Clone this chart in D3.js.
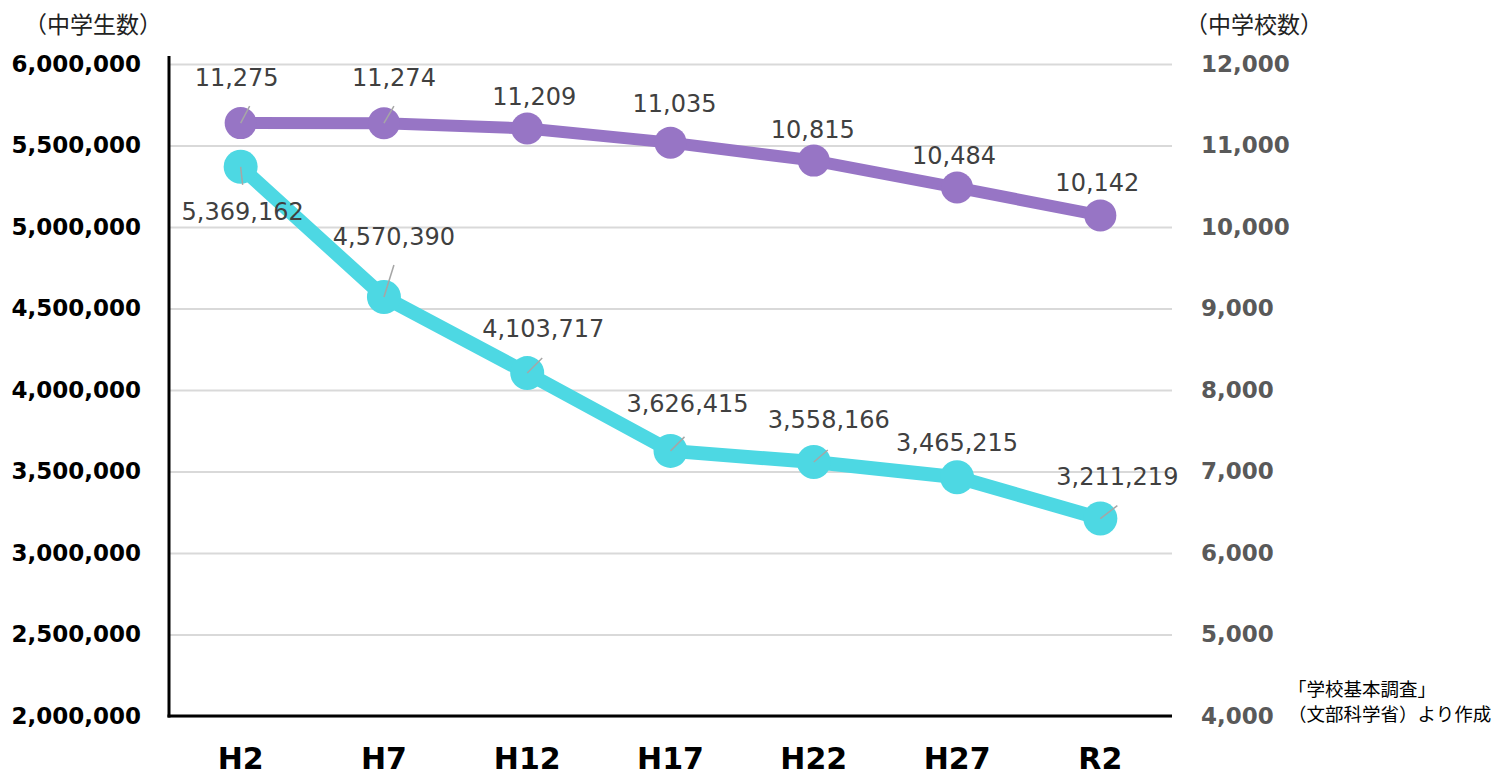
<!DOCTYPE html>
<html><head><meta charset="utf-8">
<script src="https://cdn.jsdelivr.net/npm/d3@7"></script>
<style>
html,body{margin:0;padding:0;background:#fff;}
svg{display:block;}
</style></head>
<body>
<svg id="chart" width="1505" height="777"></svg>
<script>
// ---- data ----
const categories = ["H2","H7","H12","H17","H22","H27","R2"];
const students = [5369162, 4570390, 4103717, 3626415, 3558166, 3465215, 3211219];
const schools = [11275, 11274, 11209, 11035, 10815, 10484, 10142];
const leftTicks = [2000000,2500000,3000000,3500000,4000000,4500000,5000000,5500000,6000000];
const rightTicks = [4000,5000,6000,7000,8000,9000,10000,11000,12000];
const leftTitle = "（中学生数）";
const rightTitle = "（中学校数）";
const sourceLines = ["「学校基本調査」","（文部科学省）より作成"];

// ---- layout (label placement relative to points) ----
const studentLabelOffsets = [[2,45],[10,-60],[16,-44],[17,-47],[15,-42],[0,-34],[17,-42]];
const studentLeaders = [[2,18],[10,-32],[15,-15],[14,-14],[14,-12],null,[17,-13]];
const schoolLabelOffsets = [[-4,-45],[10,-45],[7,-31],[4,-39],[-1,-31],[-3,-32],[-3,-32]];
const schoolLeaders = [[9,-17],[10,-17],null,null,null,null,null];

const svg = d3.select("#chart");
const L = 169, R = 1172, T = 64, B = 716;
const x = d3.scaleBand().domain(categories).range([L, R]);
const cx = c => x(c) + x.bandwidth()/2;
const yL = d3.scaleLinear().domain([2000000, 6000000]).range([B, T]);
const yR = d3.scaleLinear().domain([4000, 12000]).range([B, T]);
const fmt = d3.format(",");
const latin = "'DejaVu Sans', Verdana, sans-serif";
const cjk = "'Noto Sans CJK JP', sans-serif";

// gridlines
const grid = svg.append("g").attr("transform", `translate(${L},0)`)
  .call(d3.axisRight(yL).tickValues(leftTicks).tickSize(R - L).tickFormat(""));
grid.select(".domain").remove();
grid.selectAll("line").attr("stroke", "#d9d9d9").attr("stroke-width", 2);

// left axis labels
const ax = svg.append("g").attr("transform", `translate(${L},0)`)
  .call(d3.axisLeft(yL).tickValues(leftTicks).tickSize(0).tickPadding(28).tickFormat(fmt));
ax.select(".domain").remove();
ax.selectAll("text").attr("font-family", latin).attr("font-weight", "bold")
  .attr("font-size", 23).attr("fill", "#000");

// right axis labels
const ar = svg.append("g").attr("transform", `translate(${R},0)`)
  .call(d3.axisRight(yR).tickValues(rightTicks).tickSize(0).tickPadding(29).tickFormat(fmt));
ar.select(".domain").remove();
ar.selectAll("text").attr("font-family", latin).attr("font-weight", "bold")
  .attr("font-size", 23).attr("fill", "#595959");

// bottom axis labels
const axb = svg.append("g").attr("transform", `translate(0,${B})`)
  .call(d3.axisBottom(x).tickSize(0).tickPadding(32));
axb.select(".domain").remove();
axb.selectAll("text").attr("font-family", latin).attr("font-weight", "bold")
  .attr("font-size", 30).attr("fill", "#000").attr("dy", "0.71em");

// axis lines
svg.append("line").attr("x1", L).attr("x2", L).attr("y1", T - 8).attr("y2", B + 1.5)
  .attr("stroke", "#000").attr("stroke-width", 3);
svg.append("line").attr("x1", L - 1.5).attr("x2", R).attr("y1", B).attr("y2", B)
  .attr("stroke", "#000").attr("stroke-width", 3);

// series
function drawSeries(vals, y, color, lw, r, offsets, leaders) {
  const pts = vals.map((v, i) => [cx(categories[i]), y(v)]);
  svg.append("path").attr("d", d3.line()(pts)).attr("fill", "none")
    .attr("stroke", color).attr("stroke-width", lw).attr("stroke-linejoin", "round");
  svg.append("g").selectAll("circle").data(pts).join("circle")
    .attr("cx", d => d[0]).attr("cy", d => d[1]).attr("r", r).attr("fill", color);
  svg.append("g").selectAll("line").data(pts.map((p, i) => [p, leaders[i]]).filter(d => d[1]))
    .join("line")
    .attr("x1", d => d[0][0]).attr("y1", d => d[0][1])
    .attr("x2", d => d[0][0] + d[1][0]).attr("y2", d => d[0][1] + d[1][1])
    .attr("stroke", "#a6a6a6").attr("stroke-width", 1.5);
  svg.append("g").selectAll("text").data(vals).join("text")
    .attr("x", (d, i) => pts[i][0] + offsets[i][0])
    .attr("y", (d, i) => pts[i][1] + offsets[i][1])
    .attr("text-anchor", "middle").attr("dominant-baseline", "central")
    .attr("font-family", latin).attr("font-size", 24).attr("fill", "#404040")
    .text(d => fmt(d));
}
drawSeries(students, yL, "#4dd8e3", 14, 17, studentLabelOffsets, studentLeaders);
drawSeries(schools, yR, "#9775c5", 12, 16, schoolLabelOffsets, schoolLeaders);

// titles
svg.append("text").attr("x", 24).attr("y", 23).attr("dominant-baseline", "central")
  .attr("font-family", cjk).attr("font-size", 23).attr("fill", "#222").text(leftTitle);
svg.append("text").attr("x", 1185).attr("y", 23).attr("dominant-baseline", "central")
  .attr("font-family", cjk).attr("font-size", 23).attr("fill", "#222").text(rightTitle);
svg.append("g").selectAll("text").data(sourceLines).join("text")
  .attr("x", 1288).attr("y", (d, i) => 688 + i * 25).attr("dominant-baseline", "central")
  .attr("font-family", cjk).attr("font-size", 18.5).attr("fill", "#000").text(d => d);
</script>
</body></html>
